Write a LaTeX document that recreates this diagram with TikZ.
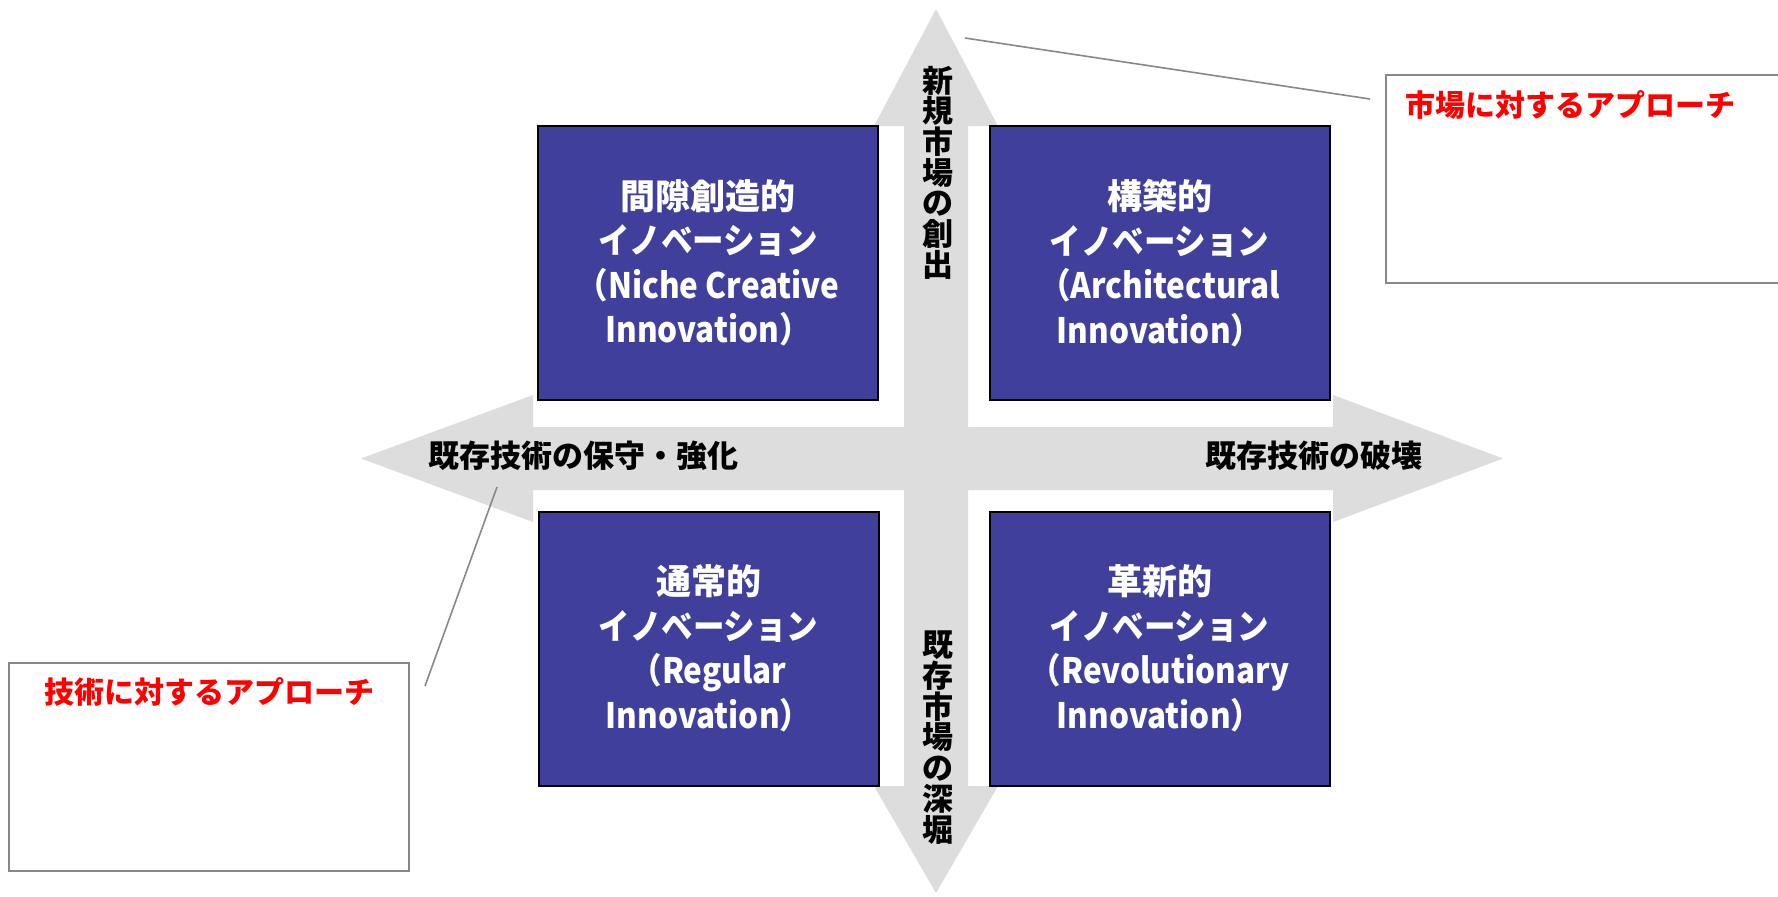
\documentclass[tikz,border=0pt]{standalone}
\usepackage{graphicx}
\usepackage{fontspec}
\newfontfamily\jp{Noto Sans CJK JP}
\definecolor{boxblue}{RGB}{64,64,156}
\definecolor{arrowgray}{RGB}{221,221,221}
\definecolor{calloutgray}{RGB}{136,136,136}
\newcommand{\kanaline}[1]{\scalebox{0.9}[1]{#1}}
\newcommand{\latline}[1]{\scalebox{0.9}[1]{#1}}
\begin{document}
\begin{tikzpicture}[x=0.5pt, y=-0.5pt,
  qbox/.style={draw=black, line width=1pt, fill=boxblue, text=white, align=center,
    minimum width=170pt, minimum height=137pt, inner sep=0pt,
    font=\jp\bfseries\fontsize{17.5pt}{22.25pt}\selectfont},
  axislbl/.style={text=black, inner sep=0pt, font=\jp\bfseries\fontsize{15.5pt}{15.35pt}\selectfont},
  vlbl/.style={axislbl, align=center},
  callbox/.style={draw=calloutgray, line width=1pt, fill=white, inner sep=0pt},
  redtxt/.style={text=red, inner sep=0pt, font=\jp\bfseries\fontsize{15pt}{18pt}\selectfont},
  leader/.style={draw=calloutgray, line width=0.8pt},
  crossfill/.style={fill=arrowgray, draw=none}]
\useasboundingbox (0,0) rectangle (1778,896);
\clip (0,0) rectangle (1778,896);
\fill[white] (0,0) rectangle (1778,896);

% four-way arrow
\path[crossfill]
  (936,9) -- (998,126) -- (968,126) -- (968,427) -- (1333,427) -- (1333,395)
  -- (1503,458.5) -- (1333,522) -- (1333,490) -- (968,490) -- (968,786)
  -- (998,786) -- (936,893) -- (874,786) -- (904,786) -- (904,490)
  -- (533,490) -- (533,522) -- (361,458.5) -- (533,395) -- (533,427)
  -- (904,427) -- (904,126) -- (874,126) -- cycle;

% quadrant boxes
\node[qbox] (tl) at (708,263) {間隙創造的\\\kanaline{イノベーション}\\\latline{（Niche Creative}\\\latline{Innovation）}};
\node[qbox] (tr) at (1159.5,263) {構築的\\\kanaline{イノベーション}\\\latline{（Architectural}\\\latline{Innovation）}};
\node[qbox] (bl) at (708.5,648.5) {通常的\\\kanaline{イノベーション}\\\latline{（Regular}\\\latline{Innovation）}};
\node[qbox] (br) at (1159.5,648.5) {革新的\\\kanaline{イノベーション}\\\latline{（Revolutionary}\\\latline{Innovation）}};

% axis labels
\node[vlbl] (up) at (938,172.5) {新\\規\\市\\場\\の\\創\\出};
\node[vlbl] (down) at (938,737.5) {既\\存\\市\\場\\の\\深\\堀};
\node[axislbl] (left) at (583,456) {既存技術の保守・強化};
\node[axislbl] (right) at (1314,456) {既存技術の破壊};

% callouts
\node[callbox, minimum width=202pt, minimum height=104pt] (rc) at (1588,179) {};
\node[redtxt] (rct) at (1570,105) {市場に対するアプローチ};
\node[callbox, minimum width=200pt, minimum height=104pt] (lc) at (209,767) {};
\node[redtxt] (lct) at (209,692) {技術に対するアプローチ};

\coordinate (ra) at (965,38);
\coordinate (rb) at (1370,99);
\coordinate (la) at (497,487);
\coordinate (lb) at (425,686);
\draw[leader] (ra) -- (rb);
\draw[leader] (la) -- (lb);
\end{tikzpicture}
\end{document}
